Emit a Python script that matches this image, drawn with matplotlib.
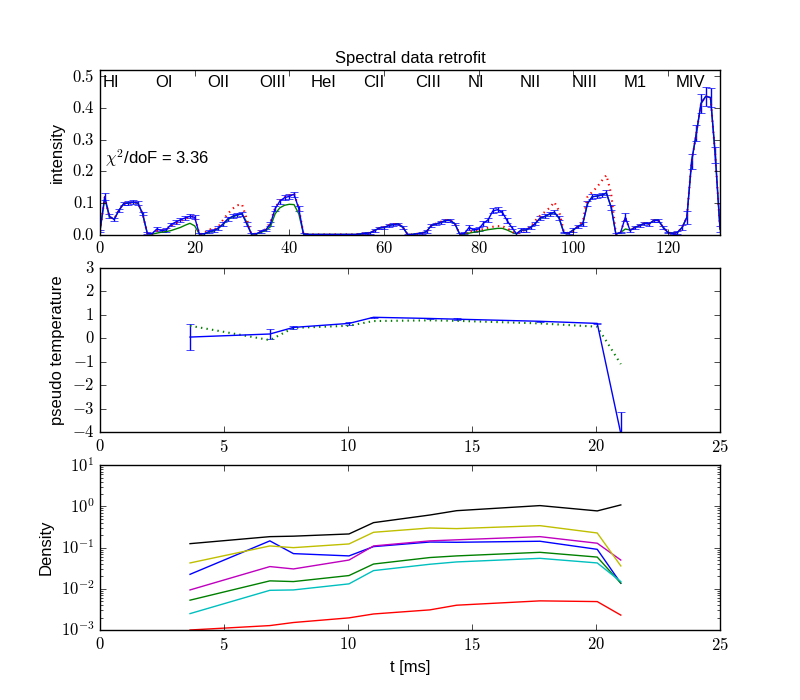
import numpy as np
import matplotlib
matplotlib.use("Agg")
import matplotlib.pyplot as plt
from matplotlib.ticker import FuncFormatter, MultipleLocator, LogLocator, NullFormatter

# ------------------------------------------------------------
# Datos del espectro (12 lineas x 11 canales)
# ------------------------------------------------------------

LINEAS = ["HI", "OI", "OII", "OIII", "HeI", "CII", "CIII",
          "NI", "NII", "NIII", "M1", "MIV"]
CANALES = 11

datos = [
    0.012, 0.120, 0.058, 0.048, 0.077, 0.098, 0.100, 0.103, 0.100, 0.066, 0.004,   # HI
    0.003, 0.018, 0.013, 0.015, 0.032, 0.040, 0.047, 0.053, 0.058, 0.055, 0.002,   # OI
    0.003, 0.010, 0.013, 0.021, 0.034, 0.050, 0.058, 0.063, 0.066, 0.034, 0.002,   # OII
    0.003, 0.010, 0.015, 0.034, 0.082, 0.106, 0.117, 0.121, 0.128, 0.082, 0.002,   # OIII
    0.001, 0.001, 0.001, 0.001, 0.001, 0.001, 0.001, 0.001, 0.001, 0.001, 0.001,   # HeI
    0.002, 0.004, 0.006, 0.013, 0.021, 0.023, 0.029, 0.032, 0.034, 0.023, 0.001,   # CII
    0.001, 0.003, 0.005, 0.010, 0.029, 0.034, 0.039, 0.045, 0.045, 0.034, 0.002,   # CIII
    0.004, 0.023, 0.015, 0.018, 0.036, 0.047, 0.075, 0.079, 0.071, 0.045, 0.023,   # NI
    0.003, 0.015, 0.015, 0.023, 0.036, 0.053, 0.058, 0.066, 0.071, 0.053, 0.007,   # NII
    0.005, 0.015, 0.026, 0.034, 0.098, 0.120, 0.122, 0.125, 0.132, 0.087, 0.002,   # NIII
    0.007, 0.055, 0.013, 0.023, 0.029, 0.036, 0.034, 0.045, 0.045, 0.023, 0.007,   # M1
    0.004, 0.007, 0.023, 0.055, 0.231, 0.320, 0.415, 0.437, 0.433, 0.252, 0.018,   # MIV
]

errores = [
    0.004, 0.012, 0.006, 0.005, 0.005, 0.005, 0.005, 0.005, 0.005, 0.005, 0.003,
    0.003, 0.005, 0.005, 0.005, 0.006, 0.006, 0.006, 0.006, 0.006, 0.006, 0.003,
    0.003, 0.004, 0.004, 0.005, 0.005, 0.006, 0.006, 0.006, 0.006, 0.006, 0.003,
    0.003, 0.004, 0.004, 0.005, 0.008, 0.008, 0.008, 0.008, 0.008, 0.008, 0.003,
    0.002, 0.002, 0.002, 0.002, 0.002, 0.002, 0.002, 0.002, 0.002, 0.002, 0.002,
    0.002, 0.003, 0.003, 0.004, 0.004, 0.004, 0.004, 0.004, 0.004, 0.004, 0.002,
    0.002, 0.003, 0.003, 0.004, 0.004, 0.004, 0.004, 0.004, 0.004, 0.004, 0.002,
    0.003, 0.007, 0.007, 0.007, 0.007, 0.007, 0.008, 0.008, 0.008, 0.007, 0.006,
    0.003, 0.005, 0.005, 0.005, 0.005, 0.006, 0.006, 0.006, 0.006, 0.006, 0.003,
    0.003, 0.005, 0.005, 0.005, 0.007, 0.007, 0.007, 0.007, 0.008, 0.008, 0.003,
    0.003, 0.012, 0.005, 0.005, 0.005, 0.005, 0.005, 0.006, 0.006, 0.006, 0.003,
    0.003, 0.004, 0.008, 0.020, 0.025, 0.025, 0.030, 0.030, 0.030, 0.025, 0.010,
]

ajuste_rojo = [
    0.012, 0.118, 0.056, 0.050, 0.078, 0.098, 0.100, 0.102, 0.100, 0.066, 0.004,
    0.003, 0.012, 0.013, 0.016, 0.028, 0.036, 0.043, 0.050, 0.056, 0.058, 0.002,
    0.003, 0.018, 0.015, 0.025, 0.047, 0.066, 0.082, 0.093, 0.096, 0.050, 0.002,
    0.003, 0.012, 0.017, 0.040, 0.085, 0.108, 0.118, 0.124, 0.130, 0.085, 0.002,
    0.001, 0.001, 0.001, 0.001, 0.001, 0.001, 0.001, 0.001, 0.001, 0.001, 0.001,
    0.002, 0.004, 0.006, 0.013, 0.021, 0.024, 0.030, 0.033, 0.035, 0.023, 0.001,
    0.001, 0.003, 0.005, 0.010, 0.029, 0.035, 0.041, 0.046, 0.047, 0.034, 0.002,
    0.004, 0.010, 0.012, 0.015, 0.018, 0.022, 0.025, 0.027, 0.027, 0.020, 0.012,
    0.003, 0.010, 0.016, 0.025, 0.045, 0.060, 0.072, 0.085, 0.103, 0.075, 0.010,
    0.005, 0.012, 0.028, 0.040, 0.120, 0.135, 0.150, 0.170, 0.188, 0.130, 0.003,
    0.007, 0.055, 0.013, 0.023, 0.029, 0.036, 0.034, 0.045, 0.045, 0.023, 0.007,
    0.004, 0.007, 0.023, 0.055, 0.231, 0.320, 0.415, 0.437, 0.433, 0.252, 0.018,
]

ajuste_verde = [
    0.012, 0.115, 0.055, 0.050, 0.077, 0.098, 0.100, 0.102, 0.100, 0.066, 0.004,
    0.002, 0.005, 0.008, 0.010, 0.013, 0.018, 0.023, 0.030, 0.036, 0.028, 0.002,
    0.003, 0.008, 0.012, 0.020, 0.032, 0.048, 0.056, 0.062, 0.066, 0.040, 0.002,
    0.002, 0.008, 0.013, 0.025, 0.066, 0.085, 0.093, 0.096, 0.095, 0.066, 0.002,
    0.001, 0.001, 0.001, 0.001, 0.001, 0.001, 0.001, 0.001, 0.001, 0.001, 0.001,
    0.002, 0.004, 0.006, 0.013, 0.021, 0.023, 0.029, 0.032, 0.034, 0.023, 0.001,
    0.001, 0.003, 0.005, 0.010, 0.029, 0.034, 0.039, 0.045, 0.045, 0.034, 0.002,
    0.003, 0.005, 0.008, 0.010, 0.013, 0.016, 0.018, 0.020, 0.020, 0.015, 0.008,
    0.003, 0.014, 0.015, 0.023, 0.036, 0.052, 0.057, 0.065, 0.070, 0.052, 0.007,
    0.005, 0.015, 0.026, 0.034, 0.098, 0.120, 0.122, 0.125, 0.131, 0.087, 0.002,
    0.007, 0.018, 0.015, 0.023, 0.029, 0.036, 0.034, 0.045, 0.045, 0.023, 0.007,
    0.004, 0.007, 0.023, 0.055, 0.231, 0.320, 0.415, 0.437, 0.433, 0.252, 0.018,
]

CHI2 = 3.36

# ------------------------------------------------------------
# Temperatura y densidades en el tiempo
# ------------------------------------------------------------

t_ms = [3.63, 6.85, 7.80, 10.04, 11.03, 13.30, 14.38, 17.74, 20.05, 21.00]

temp      = [0.05, 0.18, 0.46, 0.63, 0.89, 0.84, 0.81, 0.72, 0.63, -4.05]
temp_err  = [0.55, 0.23, 0.07, 0.07, 0.03, 0.03, 0.03, 0.03, 0.03, 0.93]
temp_prev = [0.53, -0.08, 0.44, 0.53, 0.73, 0.76, 0.74, 0.63, 0.49, -1.10]

dens_b = [0.0225, 0.146, 0.0716, 0.063, 0.106, 0.137, 0.135, 0.143, 0.091, 0.0137]
dens_g = [0.0053, 0.0156, 0.0150, 0.021, 0.040, 0.0575, 0.063, 0.077, 0.059, 0.0137]
dens_r = [0.0010, 0.00128, 0.00152, 0.00197, 0.00245, 0.00308, 0.0040, 0.0051, 0.0049, 0.0023]
dens_c = [0.0025, 0.0092, 0.0094, 0.0132, 0.0277, 0.0395, 0.045, 0.055, 0.0425, 0.015]
dens_m = [0.0094, 0.0347, 0.0304, 0.050, 0.110, 0.146, 0.155, 0.185, 0.128, 0.050]
dens_y = [0.0425, 0.110, 0.100, 0.123, 0.236, 0.300, 0.290, 0.342, 0.227, 0.036]
dens_k = [0.125, 0.185, 0.190, 0.215, 0.405, 0.620, 0.790, 1.050, 0.780, 1.090]

# ------------------------------------------------------------
# Estilo
# ------------------------------------------------------------

plt.style.use("classic")
plt.rcParams["font.family"] = ["Liberation Sans", "DejaVu Sans"]
plt.rcParams["mathtext.fontset"] = "cm"
plt.rcParams["figure.facecolor"] = "white"
plt.rcParams["savefig.facecolor"] = "white"

fmt_int = FuncFormatter(lambda v, p: r"$%d$" % round(v))
fmt_dec = FuncFormatter(lambda v, p: r"$%.1f$" % v)
fmt_log = FuncFormatter(lambda v, p: r"$10^{%d}$" % round(np.log10(v)))

fig, (ax1, ax2, ax3) = plt.subplots(3, 1, figsize=(8, 7))

# --- Panel 1: espectro ---
x = np.arange(len(datos))
ax1.errorbar(x, datos, yerr=errores, fmt="b-", ecolor="b", capsize=3)
ax1.plot(x, ajuste_verde, "g-")
ax1.plot(x, ajuste_rojo, "r:", linewidth=1.5)
for i, nombre in enumerate(LINEAS):
    ax1.text(i * CANALES + 0.6, 0.482, nombre, ha="left", va="center", fontsize=12)
ax1.text(1, 0.243, r"$\chi^2$/doF = %.2f" % CHI2, ha="left", va="center", fontsize=12)
ax1.set_xlim(0, len(datos) - 1)
ax1.set_ylim(0, 0.52)
ax1.xaxis.set_major_locator(MultipleLocator(20))
ax1.yaxis.set_major_locator(MultipleLocator(0.1))
ax1.xaxis.set_major_formatter(fmt_int)
ax1.yaxis.set_major_formatter(fmt_dec)
ax1.set_ylabel("intensity")
ax1.set_title("Spectral data retrofit", fontsize=12)

# --- Panel 2: temperatura ---
ax2.errorbar(t_ms, temp, yerr=temp_err, fmt="b-", ecolor="b", capsize=3)
ax2.plot(t_ms, temp_prev, "g:", linewidth=1.5)
ax2.set_xlim(0, 25)
ax2.set_ylim(-4, 3)
ax2.xaxis.set_major_locator(MultipleLocator(5))
ax2.yaxis.set_major_locator(MultipleLocator(1))
ax2.xaxis.set_major_formatter(fmt_int)
ax2.yaxis.set_major_formatter(fmt_int)
ax2.set_ylabel("pseudo temperature")

# --- Panel 3: densidades ---
for serie, color in [(dens_b, "b"), (dens_g, "g"), (dens_r, "r"), (dens_c, "c"),
                     (dens_m, "m"), (dens_y, "y"), (dens_k, "k")]:
    ax3.plot(t_ms, serie, color=color)
ax3.set_yscale("log")
ax3.set_xlim(0, 25)
ax3.set_ylim(1e-3, 1e1)
ax3.xaxis.set_major_locator(MultipleLocator(5))
ax3.xaxis.set_major_formatter(fmt_int)
ax3.yaxis.set_major_locator(LogLocator(base=10))
ax3.yaxis.set_minor_locator(LogLocator(base=10, subs=np.arange(2, 10)))
ax3.yaxis.set_major_formatter(fmt_log)
ax3.yaxis.set_minor_formatter(NullFormatter())
ax3.set_ylabel("Density")
ax3.set_xlabel("t [ms]")

plt.savefig("out.png", dpi=100, facecolor="white")
